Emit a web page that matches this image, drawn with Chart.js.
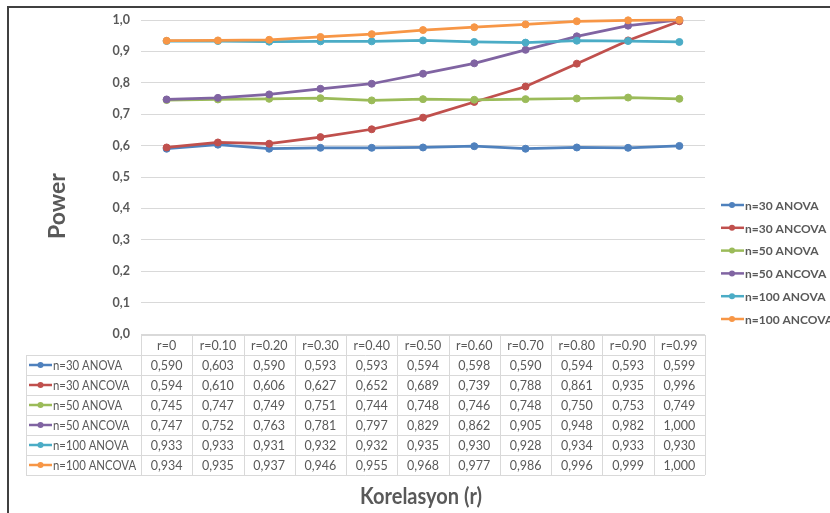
<!DOCTYPE html>
<html>
<head>
<meta charset="utf-8">
<script src="https://cdn.jsdelivr.net/npm/chart.js@4/dist/chart.umd.min.js"></script>
<style>
  html, body { margin: 0; padding: 0; background: #ffffff; }
  #wrap { width: 830px; height: 513px; position: relative; }
</style>
</head>
<body>
<div id="wrap"><canvas id="c" width="830" height="513"></canvas></div>
<script>
// Correlation levels (x categories)
const labels = ['r=0', 'r=0.10', 'r=0.20', 'r=0.30', 'r=0.40', 'r=0.50', 'r=0.60', 'r=0.70', 'r=0.80', 'r=0.90', 'r=0.99'];

// Power values per design and sample size
const anova30   = [0.590, 0.603, 0.590, 0.593, 0.593, 0.594, 0.598, 0.590, 0.594, 0.593, 0.599];
const ancova30  = [0.594, 0.610, 0.606, 0.627, 0.652, 0.689, 0.739, 0.788, 0.861, 0.935, 0.996];
const anova50   = [0.745, 0.747, 0.749, 0.751, 0.744, 0.748, 0.746, 0.748, 0.750, 0.753, 0.749];
const ancova50  = [0.747, 0.752, 0.763, 0.781, 0.797, 0.829, 0.862, 0.905, 0.948, 0.982, 1.000];
const anova100  = [0.933, 0.933, 0.931, 0.932, 0.932, 0.935, 0.930, 0.928, 0.934, 0.933, 0.930];
const ancova100 = [0.934, 0.935, 0.937, 0.946, 0.955, 0.968, 0.977, 0.986, 0.996, 0.999, 1.000];

const seriesNames = ['n=30 ANOVA', 'n=30 ANCOVA', 'n=50 ANOVA', 'n=50 ANCOVA', 'n=100 ANOVA', 'n=100 ANCOVA'];
const seriesData  = [anova30, ancova30, anova50, ancova50, anova100, ancova100];
const seriesColors = ['#4F81BD', '#C0504D', '#9BBB59', '#8064A2', '#4BACC6', '#F79646'];

const yTitle = 'Power';
const xTitle = 'Korelasyon (r)';

const FONT = 'Lato, "Liberation Sans", sans-serif';
const TEXT = '#595959';
const GRID = '#D9D9D9';

const comma = (v, d) => v.toFixed(d).replace('.', ',');

// Text squeezed horizontally to a narrower face
function condensedText(ctx, text, x, y, sx, rot) {
  ctx.save();
  ctx.translate(x, y);
  if (rot) ctx.rotate(rot);
  ctx.scale(sx, 1);
  ctx.fillText(text, 0, 0);
  ctx.restore();
}

// Data table, legend, axis titles and outer frame
const extras = {
  id: 'extras',
  afterDraw(chart) {
    const ctx = chart.ctx;
    const xs = chart.scales.x;
    const area = chart.chartArea;
    const bw = xs.getPixelForValue(1) - xs.getPixelForValue(0);
    const tLeft = 26, tRight = area.right;
    const tTop = area.bottom + 1, headH = 20, rowH = 20;
    const rows = seriesNames.length;
    const tBottom = tTop + headH + rows * rowH;

    ctx.save();
    // table grid
    ctx.strokeStyle = GRID;
    ctx.lineWidth = 1;
    ctx.beginPath();
    ctx.moveTo(area.left, tTop + 0.5); ctx.lineTo(tRight, tTop + 0.5);
    for (let r = 0; r <= rows; r++) {
      const y = tTop + headH + r * rowH + 0.5;
      ctx.moveTo(tLeft, y); ctx.lineTo(tRight, y);
    }
    ctx.moveTo(tLeft + 0.5, tTop + headH); ctx.lineTo(tLeft + 0.5, tBottom);
    for (let i = 0; i <= labels.length; i++) {
      const x = Math.round(xs.getPixelForValue(0) - bw / 2 + i * bw) + 0.5;
      ctx.moveTo(x, tTop); ctx.lineTo(x, tBottom);
    }
    ctx.stroke();

    // table text
    ctx.fillStyle = TEXT;
    ctx.font = '12.5px ' + FONT;
    ctx.textAlign = 'center';
    ctx.textBaseline = 'middle';
    labels.forEach((lab, i) => ctx.fillText(lab, xs.getPixelForValue(i), tTop + headH / 2 + 1));
    seriesData.forEach((arr, r) => {
      const cy = tTop + headH + r * rowH + rowH / 2 + 1;
      ctx.fillStyle = TEXT;
      ctx.textAlign = 'center';
      arr.forEach((v, i) => ctx.fillText(comma(v, 3), xs.getPixelForValue(i), cy));
      // legend key inside the table
      ctx.strokeStyle = seriesColors[r];
      ctx.lineWidth = 2.5;
      ctx.beginPath(); ctx.moveTo(29, cy - 1); ctx.lineTo(52, cy - 1); ctx.stroke();
      ctx.fillStyle = seriesColors[r];
      ctx.beginPath(); ctx.arc(40.5, cy - 1, 3, 0, Math.PI * 2); ctx.fill();
      ctx.fillStyle = TEXT;
      ctx.textAlign = 'left';
      condensedText(ctx, seriesNames[r], 53, cy, 0.91, 0);
    });

    // right-hand legend
    ctx.font = 'bold 12px ' + FONT;
    ctx.textAlign = 'left';
    seriesNames.forEach((name, k) => {
      const cy = 205 + k * 22.8;
      ctx.strokeStyle = seriesColors[k];
      ctx.lineWidth = 2.5;
      ctx.beginPath(); ctx.moveTo(721, cy); ctx.lineTo(744, cy); ctx.stroke();
      ctx.fillStyle = seriesColors[k];
      ctx.beginPath(); ctx.arc(732, cy, 3, 0, Math.PI * 2); ctx.fill();
      ctx.fillStyle = TEXT;
      ctx.fillText(name, 745, cy + 1);
    });

    // axis titles
    ctx.fillStyle = TEXT;
    ctx.font = 'bold 23px ' + FONT;
    ctx.textAlign = 'center';
    condensedText(ctx, xTitle, 421, 497, 0.87, 0);
    condensedText(ctx, yTitle, 58, 206, 1.0, -Math.PI / 2);

    // outer frame
    ctx.strokeStyle = '#404040';
    ctx.lineWidth = 2;
    ctx.beginPath();
    ctx.moveTo(8, 513); ctx.lineTo(8, 7); ctx.lineTo(830, 7);
    ctx.stroke();
    ctx.restore();
  }
};

new Chart(document.getElementById('c'), {
  type: 'line',
  data: {
    labels: labels,
    // later series are painted over earlier ones
    datasets: seriesData.map((d, i) => ({
      label: seriesNames[i],
      data: d,
      order: seriesData.length - i,
      borderColor: seriesColors[i],
      backgroundColor: seriesColors[i],
      pointBackgroundColor: seriesColors[i],
      pointBorderColor: seriesColors[i],
      borderWidth: 2.75,
      pointRadius: 3.5,
      pointBorderWidth: 1,
      tension: 0,
      fill: false,
      clip: false
    }))
  },
  options: {
    responsive: false,
    animation: false,
    devicePixelRatio: 1,
    layout: { padding: { left: 0, top: 20, right: 125, bottom: 179 } },
    plugins: { legend: { display: false }, tooltip: { enabled: false } },
    scales: {
      x: { type: 'category', offset: true, display: false },
      y: {
        min: 0, max: 1,
        ticks: {
          stepSize: 0.1,
          padding: 11,
          color: TEXT,
          font: { family: FONT, size: 12.5, weight: 'bold' },
          callback: v => comma(v, 1)
        },
        grid: { color: GRID, lineWidth: 1, drawTicks: false },
        border: { display: false },
        afterFit: s => { s.width = 141; }
      }
    }
  },
  plugins: [extras]
});
</script>
</body>
</html>
